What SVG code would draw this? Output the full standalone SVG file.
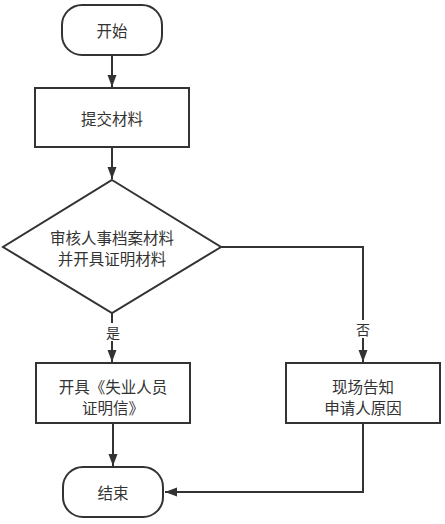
<svg xmlns="http://www.w3.org/2000/svg" width="445" height="524" viewBox="0 0 445 524">
<style>
.shape{fill:#fff;stroke:#333;stroke-width:2}
.edge{fill:none;stroke:#333;stroke-width:2}
.t{font-family:"Noto Sans CJK SC","Liberation Sans",sans-serif;font-size:15.5px;fill:#333;text-anchor:middle;dominant-baseline:central}
.lbl{font-family:"Noto Sans CJK SC","Liberation Sans",sans-serif;font-size:14px;fill:#333;text-anchor:middle;dominant-baseline:central}
</style>
<defs>
<marker id="arr" markerUnits="userSpaceOnUse" markerWidth="12" markerHeight="10" refX="12" refY="5" orient="auto">
<path d="M0,0.5 L12,5 L0,9.5 z" fill="#333"/>
</marker>
</defs>
<rect width="445" height="524" fill="#fff"/>
<g id="connectors">
<path class="edge" d="M112,55 V87" marker-end="url(#arr)"/>
<path class="edge" d="M112,147 V179" marker-end="url(#arr)"/>
<path class="edge" d="M112,313 V362" marker-end="url(#arr)"/>
<path class="edge" d="M221,247 H363 V362" marker-end="url(#arr)"/>
<path class="edge" d="M113,423 V466" marker-end="url(#arr)"/>
<path class="edge" d="M363,423 V492 H165" marker-end="url(#arr)"/>
<rect x="104" y="323" width="18" height="18" fill="#fff"/>
<text class="lbl" x="113" y="332">是</text>
<rect x="354" y="320" width="18" height="18" fill="#fff"/>
<text class="lbl" x="363" y="329">否</text>
</g>
<g id="start">
<rect class="shape" x="62" y="5" width="100" height="50" rx="20" ry="20"/>
<text class="t" x="112" y="30">开始</text>
</g>
<g id="submit">
<rect class="shape" x="35" y="88" width="154" height="59"/>
<text class="t" x="112" y="118">提交材料</text>
</g>
<g id="review">
<polygon class="shape" points="112,180 221,247 112,313 3,247"/>
<text class="t" x="112" y="236.5">审核人事档案材料</text>
<text class="t" x="112" y="257.5">并开具证明材料</text>
</g>
<g id="issue">
<rect class="shape" x="36" y="363" width="154" height="60"/>
<text class="t" x="113" y="385.5">开具《失业人员</text>
<text class="t" x="113" y="406.5">证明信》</text>
</g>
<g id="notify">
<rect class="shape" x="286" y="363" width="154" height="60"/>
<text class="t" x="363" y="385.5">现场告知</text>
<text class="t" x="363" y="406.5">申请人原因</text>
</g>
<g id="end">
<rect class="shape" x="63" y="467" width="100" height="50" rx="20" ry="20"/>
<text class="t" x="113" y="492">结束</text>
</g>
</svg>
